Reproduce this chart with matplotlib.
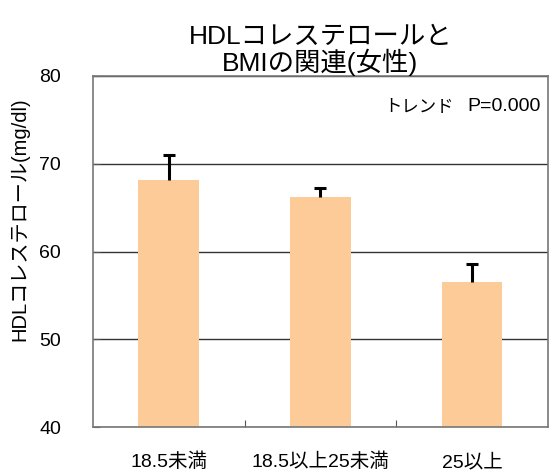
import matplotlib
matplotlib.use("Agg")
import matplotlib.pyplot as plt
import numpy as np
from matplotlib.transforms import ScaledTranslation

plt.rcParams['font.family'] = ['Liberation Sans', 'Noto Sans CJK JP', 'DejaVu Sans']

categories = ["18.5未満", "18.5以上25未満", "25以上"]
values = [68.1, 66.2, 56.5]
errors = [2.85, 1.05, 2.05]
yticks = [40, 50, 60, 70, 80]

fig = plt.figure(figsize=(5.5, 4.72), dpi=100)
ax = fig.add_axes([0.169, 0.0953, 0.827, 0.7437])

x = np.arange(len(categories))
vals = np.array(values)
tops = vals + np.array(errors)
ax.bar(x, vals, width=0.4, color="#FDCB98", zorder=2)
ax.vlines(x, vals, tops, color="black", linewidth=2.2, zorder=3)
ax.hlines(tops, x - 0.04, x + 0.04, color="black", linewidth=2.2, zorder=3)

ax.set_xlim(-0.5, 2.5)
ax.set_ylim(40, 80)
ax.set_yticks(yticks)
ax.set_yticklabels([str(t) for t in yticks], fontsize=14)
shift = ScaledTranslation(0, -3 / 100, fig.dpi_scale_trans)
for lbl in ax.get_yticklabels():
    lbl.set_transform(lbl.get_transform() + shift)
ax.yaxis.grid(True, color="#333333", linewidth=1, zorder=1)
ax.set_axisbelow(True)

ax.set_xticks([0.5, 1.5])
ax.set_xticklabels([])
ax.tick_params(axis="x", direction="in", length=5, color="#555555")
ax.tick_params(axis="y", direction="in", length=5, color="#555555", pad=23)
for i, c in enumerate(categories):
    ax.text(i, 36.0, c, ha="center", va="center", fontsize=14)

for s in ax.spines.values():
    s.set_color("#777777")
    s.set_linewidth(1.2)

ax.set_ylabel("HDLコレステロール(mg/dl)", fontsize=14.5, va="center")
ax.yaxis.set_label_coords(-0.16, 0.593)
ax.set_title("HDLコレステロールと\nBMIの関連(女性)", fontsize=19, linespacing=1.0, pad=1)
ax.text(0.985, 0.912, "P=0.000", transform=ax.transAxes,
        ha="right", va="center", fontsize=14)
ax.annotate("トレンド", xy=(0.985, 0.912), xycoords="axes fraction",
            xytext=(-63, 0), textcoords="offset points",
            ha="right", va="center", fontsize=12.5)

fig.savefig("out.png", dpi=100)
